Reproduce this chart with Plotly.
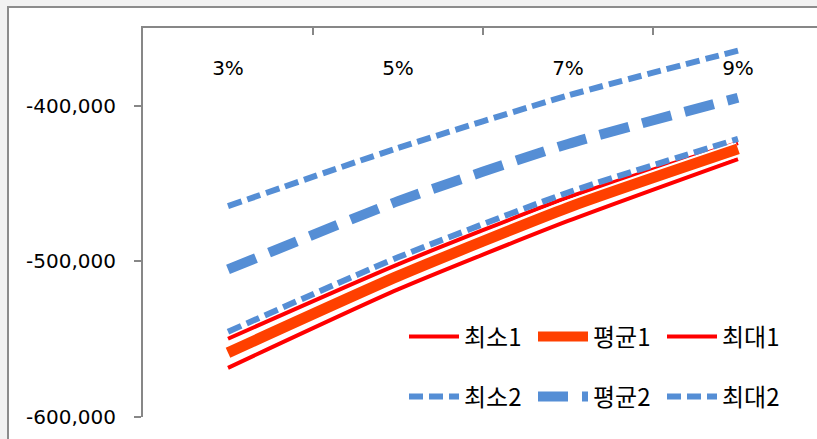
import plotly.graph_objects as go

# Categories (rates) and series values
categories = ["3%", "5%", "7%", "9%"]
min1 = [-568400, -518000, -474000, -434200]
avg1 = [-558700, -509500, -465400, -427700]
max1 = [-549700, -501900, -458900, -423900]
min2 = [-545200, -497400, -455700, -421300]
avg2 = [-505200, -461300, -424500, -394800]
max2 = [-464500, -427100, -393400, -364500]

y_tickvals = [-600000, -500000, -400000]
y_ticktext = ["-600,000", "-500,000", "-400,000"]

RED = "#FF0000"
ORANGE = "#FF4000"
BLUE = "#558ED5"
AXIS = "#878787"
FONT = "DejaVu Sans, Noto Sans CJK KR"
LEGEND_FONT = "Noto Sans CJK KR"

W, H = 817, 439
L, T, R, B = 143, 28, 0, 22
plot_w = W - L - R
plot_h = H - T - B


def px_x(p):
    return (p - L) / plot_w


def px_y(p):
    return (H - B - p) / plot_h


fig = go.Figure()

line_common = dict(x=categories, mode="lines")

fig.add_trace(go.Scatter(y=min1, name="최소1", legend="legend", legendrank=1,
                         line=dict(color=RED, width=4, shape="spline", smoothing=0.6),
                         **line_common))
fig.add_trace(go.Scatter(y=max1, name="최대1", legend="legend", legendrank=3,
                         line=dict(color=RED, width=4, shape="spline", smoothing=0.6),
                         **line_common))
# white halo under the mean line
fig.add_trace(go.Scatter(y=avg1, showlegend=False, hoverinfo="skip",
                         line=dict(color="white", width=15, shape="spline", smoothing=0.6),
                         **line_common))
fig.add_trace(go.Scatter(y=avg1, name="평균1", legend="legend", legendrank=2,
                         line=dict(color=ORANGE, width=11, shape="spline", smoothing=0.6),
                         **line_common))
fig.add_trace(go.Scatter(y=min2, name="최소2", legend="legend2", legendrank=4,
                         line=dict(color=BLUE, width=6, dash="14px,6px", shape="spline", smoothing=0.6),
                         **line_common))
fig.add_trace(go.Scatter(y=avg2, name="평균2", legend="legend2", legendrank=5,
                         line=dict(color=BLUE, width=10, dash="30px,14px", shape="spline", smoothing=0.6),
                         **line_common))
fig.add_trace(go.Scatter(y=max2, name="최대2", legend="legend2", legendrank=6,
                         line=dict(color=BLUE, width=6, dash="14px,6px", shape="spline", smoothing=0.6),
                         **line_common))

legend_common = dict(
    orientation="h",
    xanchor="left",
    yanchor="middle",
    x=px_x(404),
    bgcolor="rgba(0,0,0,0)",
    font=dict(family=LEGEND_FONT, size=24, color="#000000"),
    itemwidth=50,
    entrywidth=64,
    entrywidthmode="pixels",
    traceorder="normal",
)

fig.update_layout(
    width=W,
    height=H,
    margin=dict(l=L, r=R, t=T, b=B),
    paper_bgcolor="#F2F2F2",
    plot_bgcolor="rgba(0,0,0,0)",
    font=dict(family=FONT, size=20, color="#000000"),
    legend=dict(y=px_y(337), **legend_common),
    legend2=dict(y=px_y(397), **legend_common),
    xaxis=dict(
        type="category",
        range=[-0.5, (W - 228) / 170.0],
        side="top",
        showline=True,
        linecolor=AXIS,
        linewidth=2,
        ticks="inside",
        ticklen=7,
        tickwidth=2,
        tickcolor=AXIS,
        tickson="boundaries",
        ticklabelposition="inside",
        ticklabelstandoff=27,
        showgrid=False,
        zeroline=False,
        tickfont=dict(family=FONT, size=20, color="#000000"),
    ),
    yaxis=dict(
        range=[-600000, -350000],
        tickvals=y_tickvals,
        ticktext=y_ticktext,
        showline=True,
        linecolor=AXIS,
        linewidth=2,
        ticks="outside",
        ticklen=7,
        tickwidth=2,
        tickcolor=AXIS,
        ticklabelstandoff=14,
        showgrid=False,
        zeroline=False,
        tickfont=dict(family=FONT, size=20, color="#000000"),
    ),
    shapes=[
        dict(type="rect", xref="paper", yref="paper", layer="below",
             x0=px_x(8), x1=px_x(W + 20), y0=px_y(H + 20), y1=px_y(7),
             fillcolor="white", line=dict(color="#8C8C8C", width=2)),
    ],
)

fig.write_html("out.html")
